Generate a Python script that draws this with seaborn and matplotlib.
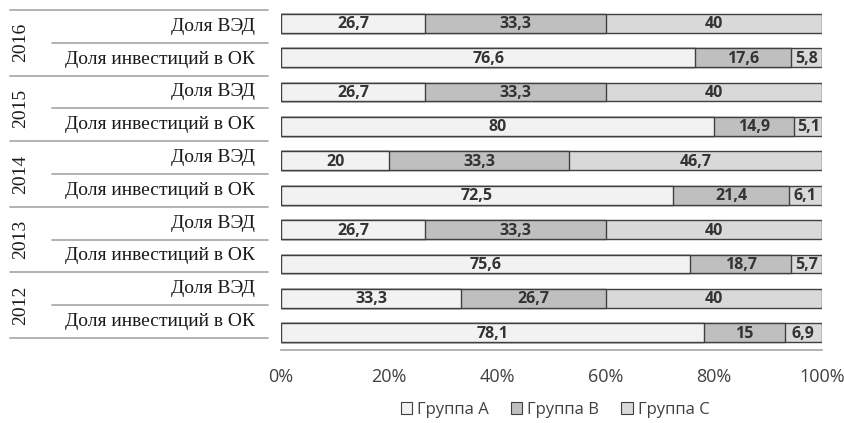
import numpy as np
import pandas as pd
import seaborn as sns
import matplotlib.pyplot as plt
from matplotlib.lines import Line2D
from matplotlib.patches import Patch

sns.set_theme(style='white')
plt.rcParams['font.family'] = ['Open Sans', 'DejaVu Sans']

# ---- data (rows top to bottom)
years = ['2016', '2015', '2014', '2013', '2012']
row_names = ['Доля ВЭД', 'Доля инвестиций в ОК']
group_a = [26.7, 76.6, 26.7, 80.0, 20.0, 72.5, 26.7, 75.6, 33.3, 78.1]
group_b = [33.3, 17.6, 33.3, 14.9, 33.3, 21.4, 33.3, 18.7, 26.7, 15.0]
group_c = [40.0, 5.8, 40.0, 5.1, 46.7, 6.1, 40.0, 5.7, 40.0, 6.9]
series = ['Группа A', 'Группа B', 'Группа C']
xticks = [0, 20, 40, 60, 80, 100]

colors = ['#F2F2F2', '#BFBFBF', '#D9D9D9']
edge = '#404040'
W, H = 845, 423

rows = ['%s %s' % (y, r) for y in years for r in row_names]
df = pd.DataFrame({'row': rows, 'A': group_a, 'B': group_b, 'C': group_c})
df['AB'] = df['A'] + df['B']
df['ABC'] = df['AB'] + df['C']

fig = plt.figure(figsize=(W / 100, H / 100), dpi=100)
ax = fig.add_axes([281 / W, (H - 350) / H, (822 - 281) / W, (350 - 6) / H])

# layered cumulative bars: C on the back, then B, then A
for col, c in zip(['ABC', 'AB', 'A'], colors[::-1]):
    sns.barplot(data=df, x=col, y='row', orient='h', color=c, saturation=1,
                width=0.55, edgecolor=edge, linewidth=1, ax=ax)

# value labels in the middle of each segment
for i, r in df.iterrows():
    starts = [0, r['A'], r['AB']]
    for s, v in zip(starts, [r['A'], r['B'], r['C']]):
        txt = ('%g' % v).replace('.', ',')
        ax.text(s + v / 2, i + 0.03, txt, ha='center', va='center', fontsize=11.5,
                fontweight='bold', color='#333333')

ax.set(xlim=(0, 100), xlabel='', ylabel='', yticks=[])
ax.set_xticks(xticks)
ax.set_xticklabels(['%d%%' % t for t in xticks], fontsize=13, color='#404040')
ax.tick_params(axis='x', length=0, pad=13)
for s in ['top', 'left', 'right']:
    ax.spines[s].set_visible(False)
ax.spines['bottom'].set_color('#A6A6A6')
ax.spines['bottom'].set_linewidth(1.2)

# left-hand table with years and row names
top, step = 10, 32.8
for k in range(11):
    y = 1 - (top + step * k) / H
    x0 = 10 if k % 2 == 0 else 52
    fig.add_artist(Line2D([x0 / W, 268 / W], [y, y], color='#A6A6A6', lw=1.2))
for k, r in enumerate(rows):
    y = 1 - (top + step * (k + 0.5)) / H
    fig.text(255 / W, y, row_names[k % 2], ha='right', va='center',
             family='Liberation Serif', fontsize=14, color='#1a1a1a')
for j, yr in enumerate(years):
    y = 1 - (top + step * (2 * j + 1)) / H
    fig.text(21 / W, y, yr, ha='center', va='center', rotation=90,
             family='Liberation Serif', fontsize=14, color='#1a1a1a')

handles = [Patch(facecolor=c, edgecolor=edge, lw=0.8) for c in colors]
fig.legend(handles, series, loc='center', bbox_to_anchor=(555 / W, 13 / H),
           ncol=3, frameon=False, fontsize=12, handlelength=0.7, handleheight=0.7,
           handletextpad=0.3, columnspacing=1.3, labelcolor='#404040')

fig.savefig('out.png', dpi=100, facecolor='white')
